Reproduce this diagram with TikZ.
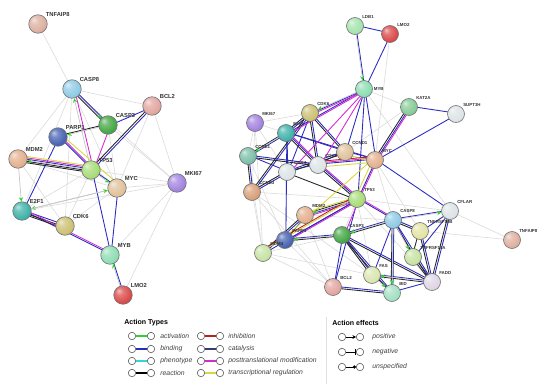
\documentclass[tikz,border=0pt]{standalone}
\usepackage{fontspec}
\setmainfont{Liberation Sans}
\usetikzlibrary{arrows.meta, calc, backgrounds}

% softer spheres than the stock ball shading
\makeatletter
\pgfdeclareradialshading[tikz@ball]{ball}{\pgfqpoint{-12bp}{12bp}}{%
  color(0bp)=(tikz@ball!35!white); color(10bp)=(tikz@ball!75!white);
  color(26bp)=(tikz@ball); color(40bp)=(tikz@ball!88!black);
  color(50bp)=(tikz@ball!65!black)}
\makeatother

\definecolor{cTan}{HTML}{E0C29A}
\definecolor{cPeach}{HTML}{E3B08E}
\definecolor{cPink}{HTML}{E3A6A0}
\definecolor{cRose}{HTML}{DDB0A0}
\definecolor{cSky}{HTML}{8FCBE6}
\definecolor{cGreen}{HTML}{45A845}
\definecolor{cNavy}{HTML}{4763B3}
\definecolor{cLime}{HTML}{A8DC78}
\definecolor{cViolet}{HTML}{A384E0}
\definecolor{cTeal}{HTML}{3FB3AA}
\definecolor{cOlive}{HTML}{CCC174}
\definecolor{cMint}{HTML}{8EDDB4}
\definecolor{cRed}{HTML}{DB4A4A}
\definecolor{cPale}{HTML}{A6E3B0}
\definecolor{cKat}{HTML}{86CC96}
\definecolor{cGrey}{HTML}{DDE3E6}
\definecolor{cSea}{HTML}{7DBFA8}
\definecolor{cOrange}{HTML}{D9A07A}
\definecolor{cYel}{HTML}{E3E3A4}
\definecolor{cLgreen}{HTML}{C7E3A3}
\definecolor{cFas}{HTML}{D9E6B0}
\definecolor{cLav}{HTML}{E0D6E6}
\definecolor{cBid}{HTML}{A3E0C2}
% action colours
\definecolor{cBind}{HTML}{2B2BC0}
\definecolor{cPtm}{HTML}{D42AD4}
\definecolor{cTreg}{HTML}{D8D83A}
\definecolor{cAct}{HTML}{2ED32E}
\definecolor{cPheno}{HTML}{2FD8D8}
\definecolor{cInhib}{HTML}{B82020}
\definecolor{cCatal}{HTML}{3A3A6E}

% one line of a bundle, shifted sideways by #1
\newcommand{\edge}[4][0pt]{\draw[#2] ($(#3)!#1!90:(#4)$) -- ($(#4)!#1!-90:(#3)$);}

\begin{document}
\begin{tikzpicture}[
    x=0.02cm, y=-0.02cm,
    gene/.style={
      circle, draw=black!55, line width=0.35pt, ball color=#1,
      minimum size=0.37cm, inner sep=0pt,
    },
    geneS/.style={gene=#1, minimum size=0.34cm},
    lbl/.style={font=\fontsize{3.3}{4}\selectfont\bfseries, text=black!80, inner sep=0.4pt},
    lblS/.style={lbl, font=\fontsize{2.5}{3}\selectfont\bfseries},
    faint/.style={gray!28, line width=0.35pt},
    bind/.style={cBind, line width=0.5pt},
    react/.style={black!85, line width=0.5pt},
    ptm/.style={cPtm, line width=0.5pt},
    treg/.style={cTreg, line width=0.5pt},
    inhib/.style={cInhib, line width=0.5pt},
    act/.style={gray!45, line width=0.4pt, -{Stealth[length=2.4pt, width=2.4pt, color=cAct]}},
    mini/.style={
      circle, draw=gray!60!black, line width=0.3pt, ball color=white,
      minimum size=0.15cm, inner sep=0pt,
    },
    head/.style={font=\fontsize{4}{5}\selectfont\bfseries, anchor=west, inner sep=0pt},
    key/.style={font=\fontsize{3.9}{5}\selectfont\itshape, text=black!75, anchor=west, inner sep=0pt},
    legline/.style={line width=0.6pt},
]
\useasboundingbox (0,0) rectangle (550,389);

% Left network
\node[gene=cRose] (lTNFAIP8) at (38,24) [label={[lbl]north east:TNFAIP8}] {};
\node[gene=cSky] (lCASP8) at (72,89) [label={[lbl]north east:CASP8}] {};
\node[gene=cPink] (lBCL2) at (152,106) [label={[lbl]north east:BCL2}] {};
\node[gene=cGreen] (lCASP3) at (108,125) [label={[lbl]north east:CASP3}] {};
\node[gene=cNavy] (lPARP1) at (58,137) [label={[lbl]north east:PARP1}] {};
\node[gene=cPeach] (lMDM2) at (18,159) [label={[lbl]north east:MDM2}] {};
\node[gene=cLime] (lTP53) at (91,170) [label={[lbl]north east:TP53}] {};
\node[gene=cTan] (lMYC) at (117,188) [label={[lbl]north east:MYC}] {};
\node[gene=cViolet] (lMKI67) at (177,183) [label={[lbl]north east:MKI67}] {};
\node[gene=cTeal] (lE2F1) at (22,211) [label={[lbl]north east:E2F1}] {};
\node[gene=cOlive] (lCDK6) at (65,226) [label={[lbl]north east:CDK6}] {};
\node[gene=cMint] (lMYB) at (110,255) [label={[lbl]north east:MYB}] {};
\node[gene=cRed] (lLMO2) at (123,295) [label={[lbl]north east:LMO2}] {};

% Right network
\node[geneS=cPale] (rLDB1) at (355,26) [label={[lblS]north east:LDB1}] {};
\node[geneS=cRed] (rLMO2) at (390,34) [label={[lblS]north east:LMO2}] {};
\node[geneS=cMint] (rMYB) at (364,89) [label={[lblS]east:MYB}] {};
\node[geneS=cKat] (rKAT2A) at (409,107) [label={[lblS]north east:KAT2A}] {};
\node[geneS=cGrey] (rSUPT3H) at (456,114) [label={[lblS]north east:SUPT3H}] {};
\node[geneS=cOlive] (rCDK6) at (310,113) [label={[lblS]north east:CDK6}] {};
\node[geneS=cViolet] (rMKI67) at (255,123) [label={[lblS]north east:MKI67}] {};
\node[geneS=cTeal] (rE2F1) at (286,133) [label={[lblS]north east:E2F1}] {};
\node[geneS=cSea] (rCCNE1) at (248,156) [label={[lblS]north east:CCNE1}] {};
\node[geneS=cTan] (rCCND1) at (345,152) [label={[lblS]north east:CCND1}] {};
\node[geneS=cPeach] (rMYC) at (375,160) [label={[lblS]north east:MYC}] {};
\node[geneS=cGrey] (rCDK4) at (287,172) [label={[lblS]north east:CDK4}] {};
\node[geneS=cGrey] (rCDK2) at (318,165) [label={[lblS]north east:CDK2}] {};
\node[geneS=cOrange] (rCCND3) at (252,192) [label={[lblS]north east:CCND3}] {};
\node[geneS=cLime] (rTP53) at (357,199) [label={[lblS]north east:TP53}] {};
\node[geneS=cPeach] (rMDM2) at (305,215) [label={[lblS]north east:MDM2}] {};
\node[geneS=cSky] (rCASP8) at (393,220) [label={[lblS]north east:CASP8}] {};
\node[geneS=cGrey] (rCFLAR) at (450,211) [label={[lblS]north east:CFLAR}] {};
\node[geneS=cYel] (rTNFRSF10B) at (420,231) [label={[lblS]north east:TNFRSF10B}] {};
\node[geneS=cNavy] (rPARP1) at (285,240) [label={[lblS]north east:PARP1}] {};
\node[geneS=cLgreen] (rMDM4) at (263,253) [label={[lblS]north east:MDM4}] {};
\node[geneS=cGreen] (rCASP3) at (342,235) [label={[lblS]north east:CASP3}] {};
\node[geneS=cLgreen] (rTNFRSF10A) at (413,257) [label={[lblS]north east:TNFRSF10A}] {};
\node[geneS=cFas] (rFAS) at (372,275) [label={[lblS]north east:FAS}] {};
\node[geneS=cLav] (rFADD) at (432,282) [label={[lblS]north east:FADD}] {};
\node[geneS=cPink] (rBCL2) at (333,287) [label={[lblS]north east:BCL2}] {};
\node[geneS=cBid] (rBID) at (392,293) [label={[lblS]north east:BID}] {};
\node[geneS=cRose] (rTNFAIP8) at (512,240) [label={[lblS]north east:TNFAIP8}] {};

\begin{scope}[on background layer]
% left: evidence only
\foreach \a/\b in {lTNFAIP8/lCASP8, lCASP8/lBCL2, lCASP8/lMDM2, lCASP8/lMYC, lCASP8/lMKI67,
    lCASP8/lE2F1, lCASP8/lCDK6, lBCL2/lMYC, lBCL2/lMKI67, lCASP3/lMYC, lCASP3/lMKI67,
    lTP53/lMKI67, lMYC/lMKI67, lE2F1/lMKI67, lE2F1/lTP53, lCDK6/lTP53,
    lCDK6/lMYC, lMDM2/lCDK6, lMYB/lMKI67, lPARP1/lMYC, lMDM2/lMYC, lLMO2/lMKI67}
  {\edge{faint}{\a}{\b}}
% left: actions
\foreach \a/\b in {lCASP8/lCASP3, lBCL2/lTP53, lBCL2/lCASP3, lPARP1/lTP53, lPARP1/lE2F1,
    lMDM2/lTP53, lTP53/lMYC, lTP53/lMYB, lMYC/lMYB, lE2F1/lCDK6, lE2F1/lMYB, lMYB/lLMO2}
  {\edge[0.6pt]{bind}{\a}{\b}}
\foreach \a/\b in {lCASP8/lCASP3, lBCL2/lTP53, lCASP3/lPARP1, lMDM2/lTP53, lE2F1/lCDK6}
  {\edge[-0.6pt]{react}{\a}{\b}}
\foreach \a/\b in {lMDM2/lTP53, lE2F1/lCDK6}
  {\edge[-1.4pt]{react}{\a}{\b}}
\foreach \a/\b in {lCASP8/lTP53, lCASP3/lTP53, lPARP1/lTP53, lMDM2/lTP53, lE2F1/lMYB}
  {\edge[1.4pt]{ptm}{\a}{\b}}
\foreach \a/\b in {lMDM2/lTP53, lPARP1/lMYC}
  {\edge[2.2pt]{treg}{\a}{\b}}
\foreach \a/\b in {lCASP8/lCASP3, lCASP3/lPARP1, lTP53/lMDM2, lMDM2/lE2F1, lMYC/lE2F1,
    lTP53/lMYC, lE2F1/lMYC, lLMO2/lMYB, lTP53/lCASP8}
  \draw[act] (\a) -- (\b);

% right: evidence only
\foreach \a/\b in {rLMO2/rMYC, rMYB/rKAT2A, rKAT2A/rCCND1, rMKI67/rE2F1, rMKI67/rCCNE1,
    rMKI67/rCDK4, rMKI67/rCCND3, rMKI67/rCDK6, rTP53/rCFLAR, rTP53/rTNFRSF10B,
    rCFLAR/rTNFAIP8, rTNFRSF10B/rTNFAIP8, rMYC/rCASP8, rMYC/rTNFRSF10B, rCCND3/rMDM4,
    rCCND3/rBCL2, rMDM4/rBCL2, rCCNE1/rMDM4, rCDK4/rPARP1, rMDM2/rBCL2, rMYC/rCASP3,
    rMDM4/rCASP3, rPARP1/rBCL2, rE2F1/rTP53, rCCND3/rTP53, rMDM2/rCASP8, rTP53/rFADD,
    rMYB/rCFLAR, rCCNE1/rPARP1, rMKI67/rMDM4, rCCND3/rFAS, rMDM4/rFAS, rTP53/rFAS}
  {\edge{faint}{\a}{\b}}
% right: actions
\foreach \a/\b in {rLDB1/rLMO2, rLDB1/rMYB, rLMO2/rMYB, rMYB/rCDK6, rMYB/rE2F1, rMYB/rCCND1,
    rMYB/rMYC, rMYB/rTP53, rKAT2A/rSUPT3H, rKAT2A/rMYC, rSUPT3H/rMYC, rMYC/rCFLAR,
    rCDK6/rE2F1, rCDK6/rCCND1, rCDK6/rCCND3, rCDK6/rCDK4, rCDK6/rCDK2, rE2F1/rCCNE1,
    rE2F1/rCDK4, rE2F1/rCDK2, rE2F1/rMYC, rE2F1/rCCND1, rE2F1/rPARP1, rCCNE1/rCDK2,
    rCCNE1/rCDK4, rCCNE1/rCCND3, rCDK4/rCDK2, rCDK4/rCCND1, rCDK4/rCCND3, rCDK2/rCCND1,
    rCDK2/rMYC, rCDK2/rTP53, rCCND1/rMYC, rMYC/rTP53, rTP53/rMDM2, rTP53/rMDM4,
    rTP53/rPARP1, rTP53/rCASP8, rTP53/rBCL2, rMDM2/rMDM4, rMDM2/rPARP1, rPARP1/rCASP3,
    rCASP3/rCASP8, rCASP3/rBID, rCASP3/rBCL2, rCASP3/rFAS, rCASP8/rCFLAR,
    rCASP8/rTNFRSF10B, rCASP8/rTNFRSF10A, rCASP8/rFADD, rCASP8/rFAS, rCASP8/rBID,
    rCFLAR/rTNFRSF10B, rCFLAR/rFADD, rCFLAR/rTNFRSF10A, rTNFRSF10B/rFADD,
    rTNFRSF10A/rFADD, rFAS/rFADD, rFAS/rBID, rBCL2/rBID, rBID/rFADD, rCASP3/rFADD}
  {\edge[0.5pt]{bind}{\a}{\b}}
\foreach \a/\b in {rCDK6/rCCND1, rCDK6/rCCND3, rCDK6/rCDK2, rCDK6/rE2F1, rE2F1/rCCNE1,
    rE2F1/rCDK2, rCCNE1/rCDK2, rCCNE1/rCCND3, rCDK4/rCCND1, rCDK4/rCCND3, rCDK4/rTP53,
    rCDK2/rTP53, rKAT2A/rMYC, rTP53/rMDM2, rMDM2/rMDM4, rPARP1/rCASP3, rCASP3/rCASP8,
    rCASP3/rBID, rCASP3/rFAS, rCASP3/rFADD, rCASP8/rTNFRSF10B, rCASP8/rFADD, rCASP8/rBID,
    rCFLAR/rFADD, rTNFRSF10B/rFADD, rTNFRSF10B/rTNFRSF10A, rTNFRSF10A/rFADD, rFAS/rFADD,
    rBCL2/rBID}
  {\edge[-0.5pt]{react}{\a}{\b}}
\foreach \a/\b in {rMYB/rCDK6, rMYB/rE2F1, rMYB/rCDK4, rMYB/rCDK2, rE2F1/rCDK2, rCDK2/rMYC,
    rKAT2A/rMYC, rMYC/rTP53, rTP53/rMDM2, rTP53/rPARP1, rTP53/rCASP3, rTP53/rCASP8,
    rCDK2/rTP53}
  {\edge[1.2pt]{ptm}{\a}{\b}}
\foreach \a/\b in {rCCND1/rMYC, rMYC/rTP53, rTP53/rMDM2, rTP53/rMDM4, rMYC/rPARP1, rCDK2/rMYC}
  {\edge[-1.2pt]{treg}{\a}{\b}}
\foreach \a/\b in {rCDK2/rMYC, rMDM4/rTP53}
  {\edge[2pt]{inhib}{\a}{\b}}
\foreach \a/\b in {rLDB1/rMYB, rTP53/rMDM2, rCASP8/rCFLAR, rCASP8/rCASP3, rCASP3/rPARP1,
    rFAS/rBID, rCASP8/rBID, rFADD/rFAS, rE2F1/rCCNE1, rCASP8/rTNFRSF10A, rMYB/rCDK6}
  \draw[act] (\a) -- (\b);
\end{scope}

% Legend: action types
\node[head] (tTypes) at (124,323) {Action Types};
\foreach \y/\c/\t in {336/cAct/activation, 349/cBind/binding, 361/cPheno/phenotype,
    373/black/reaction} {
  \node[mini] (a\y) at (132,\y) {};
  \node[mini] (b\y) at (151,\y) {};
  \draw[legline, \c] (a\y) -- (b\y);
  \node[key] (k\y) at (160,\y) {\t};
}
\foreach \y/\c/\t in {336/cInhib/inhibition, 349/cCatal/catalysis,
    361/cPtm/posttranslational modification, 373/cTreg/transcriptional regulation} {
  \node[mini] (c\y) at (201,\y) {};
  \node[mini] (d\y) at (220,\y) {};
  \draw[legline, \c] (c\y) -- (d\y);
  \node[key] (m\y) at (228,\y) {\t};
}
\draw[gray!25, line width=0.4pt] (326,317) -- (326,384);

% Legend: action effects
\node[head] (tEffects) at (332,323) {Action effects};
\node[mini] (e1) at (342,337) {};
\node[mini] (f1) at (360,337) {};
\draw[line width=0.5pt, -{Stealth[length=2pt, width=2.2pt]}] (e1) -- (f1);
\node[key] (n1) at (372,337) {positive};
\node[mini] (e2) at (342,352) {};
\node[mini] (f2) at (360,352) {};
\draw[line width=0.5pt, -{Bar[width=3pt]}] (e2) -- (f2);
\node[key] (n2) at (372,352) {negative};
\node[mini] (e3) at (342,367) {};
\node[mini] (f3) at (360,367) {};
\draw[line width=0.5pt, -{Circle[length=1.8pt]}] (e3) -- (f3);
\node[key] (n3) at (372,367) {unspecified};
\end{tikzpicture}
\end{document}
